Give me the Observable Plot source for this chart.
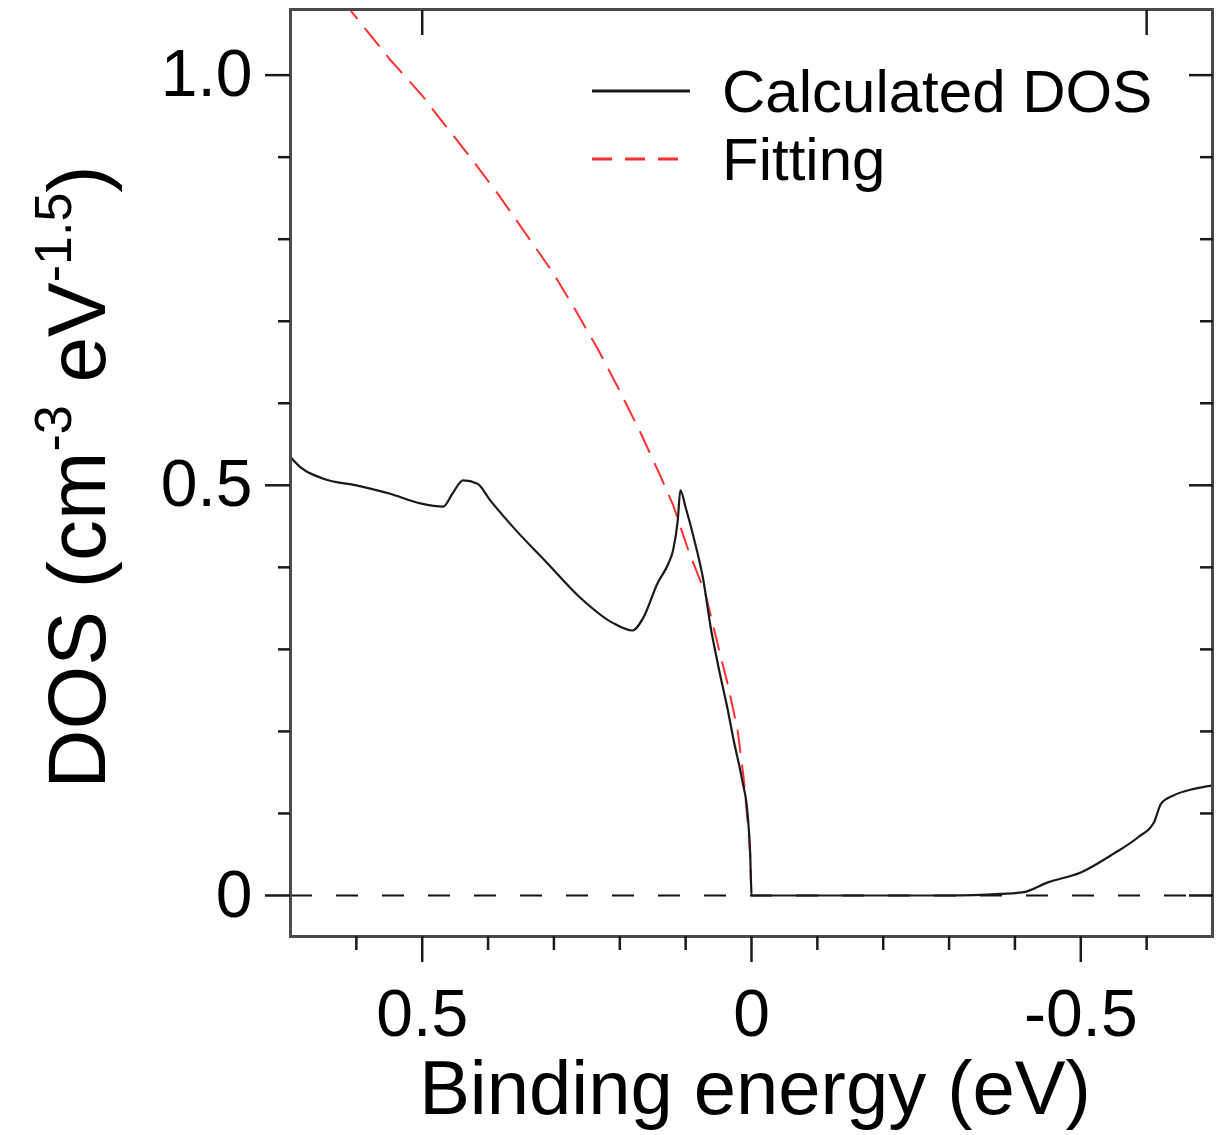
<!DOCTYPE html>
<html><head><meta charset="utf-8">
<script src="https://cdn.jsdelivr.net/npm/d3@7"></script>
<script src="https://cdn.jsdelivr.net/npm/@observablehq/plot@0.6"></script>
<style>body{margin:0;background:#fff;} #chart{position:relative;width:1230px;height:1135px;}</style>
</head><body><div id="chart"></div>
<script>
// Calculated DOS (binding energy in eV, DOS value)
const dosEnergy = [0.70, 0.695, 0.65, 0.60, 0.55, 0.503, 0.468, 0.454, 0.438, 0.416, 0.397, 0.362, 0.31, 0.26, 0.21, 0.181, 0.164, 0.143, 0.126, 0.119, 0.112, 0.108, 0.100, 0.088, 0.073, 0.062, 0.050, 0.036, 0.027, 0.014, 0.006, 0.002, 0.0, -0.1, -0.2, -0.3, -0.378, -0.413, -0.45, -0.5, -0.55, -0.587, -0.611, -0.622, -0.641, -0.672, -0.70];
const dosValue  = [0.535, 0.530, 0.508, 0.500, 0.490, 0.478, 0.474, 0.490, 0.506, 0.502, 0.482, 0.449, 0.405, 0.363, 0.332, 0.323, 0.339, 0.380, 0.405, 0.421, 0.457, 0.494, 0.473, 0.437, 0.384, 0.327, 0.278, 0.226, 0.189, 0.140, 0.100, 0.051, 0.0, 0.0, 0.0, 0.0, 0.002, 0.004, 0.016, 0.028, 0.051, 0.071, 0.089, 0.112, 0.122, 0.130, 0.134];
// Fitting curve
const fitEnergy = [0.62, 0.60, 0.55, 0.50, 0.477, 0.427, 0.384, 0.343, 0.302, 0.267, 0.234, 0.202, 0.169, 0.141, 0.119, 0.096, 0.070, 0.050, 0.035, 0.021, 0.012, 0.005, 0.002, 0.0];
const fitValue  = [1.09, 1.07, 1.02, 0.975, 0.951, 0.900, 0.854, 0.807, 0.760, 0.713, 0.667, 0.618, 0.565, 0.516, 0.476, 0.421, 0.368, 0.302, 0.254, 0.201, 0.144, 0.083, 0.05, 0.0];

const yMajorTicks = [0, 0.5, 1.0];
const yMinorTicks = [0.1, 0.2, 0.3, 0.4, 0.6, 0.7, 0.8, 0.9];
const xMajorTicks = [0.5, 0, -0.5];
const xMinorTicks = [0.6, 0.4, 0.3, 0.2, 0.1, -0.1, -0.2, -0.3, -0.4, -0.6];
const xTopTicks = [0.5, -0.6];
const seriesNames = ["Calculated DOS", "Fitting"];
const xTitle = "Binding energy (eV)";

const dos = dosEnergy.map((e, i) => ({E: e, V: dosValue[i]}));
const fit = fitEnergy.map((e, i) => ({E: e, V: fitValue[i]}));

const fmtY = d => d === 0 ? "0" : d.toFixed(1);
const fmtX = d => d === 0 ? "0" : (d < 0 ? "-" + (-d).toFixed(1) : d.toFixed(1));
const tickStroke = "#1a1a1a";

const plot = Plot.plot({
  width: 1230, height: 1135,
  marginLeft: 290, marginRight: 18, marginTop: 9, marginBottom: 199,
  style: {fontFamily: "'Liberation Sans', Arial, sans-serif", background: "#fff", color: "#000"},
  x: {domain: [0.7, -0.7]},
  y: {domain: [-0.05, 1.08]},
  marks: [
    Plot.ruleY([0], {stroke: "#111", strokeWidth: 2, strokeDasharray: "22,24"}),
    Plot.line(fit, {x: "E", y: "V", stroke: "#ff3030", strokeWidth: 2, strokeDasharray: "22,13", clip: true}),
    Plot.line(dos, {x: "E", y: "V", stroke: "#1a1a1a", strokeWidth: 2.2, curve: "monotone-x", clip: true}),
    Plot.frame({stroke: "#4a4a4a", strokeWidth: 3}),
    Plot.axisY(yMajorTicks, {anchor: "left", tickSize: 25, tickPadding: 13, fontSize: 66, tickFormat: fmtY, stroke: tickStroke, strokeWidth: 2.5, label: null}),
    Plot.axisY(yMinorTicks, {anchor: "left", tickSize: 12, fill: "none", stroke: tickStroke, strokeWidth: 2.5, label: null}),
    Plot.axisY(yMajorTicks, {anchor: "right", tickSize: -24, fill: "none", stroke: tickStroke, strokeWidth: 2.5, label: null}),
    Plot.axisY(yMinorTicks, {anchor: "right", tickSize: -13, fill: "none", stroke: tickStroke, strokeWidth: 2.5, label: null}),
    Plot.axisX(xMajorTicks, {anchor: "bottom", tickSize: 26, tickPadding: 27, fontSize: 66, tickFormat: fmtX, stroke: tickStroke, strokeWidth: 2.5, label: null}),
    Plot.axisX(xMinorTicks, {anchor: "bottom", tickSize: 14, fill: "none", stroke: tickStroke, strokeWidth: 2.5, label: null}),
    Plot.axisX(xTopTicks, {anchor: "top", tickSize: -25, fill: "none", stroke: tickStroke, strokeWidth: 2.5, label: null})
  ]
});
document.getElementById("chart").appendChild(plot);

const svg = d3.select(plot);
const font = "'Liberation Sans', Arial, sans-serif";
// y-axis title with superscripts
const yt = svg.append("text")
  .attr("transform", "translate(105,477) rotate(-90)")
  .attr("text-anchor", "middle").attr("font-family", font).attr("font-size", 82).attr("fill", "#000");
yt.append("tspan").text("DOS (cm");
yt.append("tspan").attr("font-size", 52).attr("dy", -34).text("-3");
yt.append("tspan").attr("dy", 34).text(" eV");
yt.append("tspan").attr("font-size", 52).attr("dy", -34).text("-1.5");
yt.append("tspan").attr("dy", 34).text(")");
// x-axis title
svg.append("text").attr("x", 755).attr("y", 1114).attr("text-anchor", "middle")
  .attr("font-family", font).attr("font-size", 76).attr("fill", "#000").text(xTitle);
// legend
const lg = svg.append("g").attr("font-family", font).attr("font-size", 60).attr("fill", "#000").attr("text-anchor", "start");
lg.append("line").attr("x1", 592).attr("x2", 690).attr("y1", 91).attr("y2", 91).attr("stroke", "#1a1a1a").attr("stroke-width", 3);
lg.append("line").attr("x1", 592).attr("x2", 690).attr("y1", 159).attr("y2", 159).attr("stroke", "#ff3030").attr("stroke-width", 3).attr("stroke-dasharray", "20,13");
lg.append("text").attr("x", 722).attr("y", 112).attr("text-anchor", "start").text(seriesNames[0]);
lg.append("text").attr("x", 722).attr("y", 180).attr("text-anchor", "start").text(seriesNames[1]);
</script>
</body></html>
